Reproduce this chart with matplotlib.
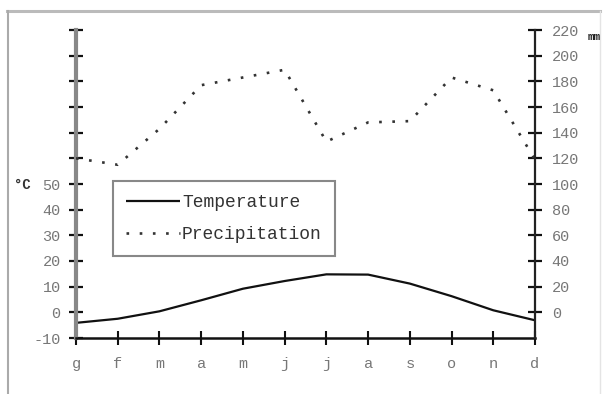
import matplotlib
matplotlib.use("Agg")
import matplotlib.pyplot as plt
from matplotlib.lines import Line2D

months = ["g", "f", "m", "a", "m", "j", "j", "a", "s", "o", "n", "d"]
temperature = [-4.1, -2.5, 0.4, 4.7, 9.2, 12.2, 14.8, 14.7, 11.2, 6.3, 0.8, -3.1]
precipitation = [120, 115, 143, 177, 183, 189, 133, 148, 149, 183, 173, 119]
temp_ticks = list(range(-10, 111, 10))
temp_labels = [str(t) if t <= 50 else "" for t in temp_ticks]
prec_ticks = list(range(0, 221, 20))

FONT = "Liberation Mono"
W, H = 606, 394
fig = plt.figure(figsize=(W / 100, H / 100), dpi=100)
fig.patch.set_facecolor("white")

ax = fig.add_axes([76 / W, 1 - 338 / H, (535 - 76) / W, (338 - 30) / H])
ax2 = ax.twinx()

x = list(range(len(months)))
l1, = ax.plot(x, temperature, color="#111111", lw=1.6, solid_capstyle="butt")
l2, = ax2.plot(x, precipitation, color="#333333", lw=1.9, linestyle=(0, (1, 4)))

ax.set_xlim(0, 11)
ax.set_ylim(-10, 110)
ax2.set_ylim(-20, 220)

for a in (ax, ax2):
    a.spines["top"].set_visible(False)
ax.spines["right"].set_visible(False)
ax2.spines["left"].set_visible(False)
ax2.spines["bottom"].set_visible(False)
ax.spines["left"].set_color("#888888")
ax.spines["left"].set_linewidth(3)
ax.spines["bottom"].set_color("#111111")
ax.spines["bottom"].set_linewidth(1.8)
ax2.spines["right"].set_color("#222222")
ax2.spines["right"].set_linewidth(1.6)

ax.set_xticks(x)
ax.set_xticklabels(months, fontfamily=FONT, fontsize=11, color="#777777")
ax.set_yticks(temp_ticks)
ax.set_yticklabels(temp_labels, fontfamily=FONT, fontsize=11, color="#777777")
ax2.set_yticks(prec_ticks)
ax2.set_yticklabels([str(p) for p in prec_ticks], fontfamily=FONT, fontsize=11, color="#777777")

ax.tick_params(axis="x", direction="inout", length=10, width=1.5, color="#111111", pad=9)
ax.tick_params(axis="y", direction="inout", length=10, width=1.6, color="#111111", pad=6)
ax2.tick_params(axis="y", direction="inout", length=10, width=1.6, color="#111111", pad=7)

fig.text(22 / W, 1 - 185 / H, "°C", fontfamily=FONT, fontsize=10, color="#333333",
         ha="center", va="center", fontweight="bold")
fig.text(588 / W, 1 - 37 / H, "mm", fontfamily=FONT, fontsize=8, color="#222222",
         ha="left", va="center", fontweight="bold")

leg = ax.legend([l1, l2], ["Temperature", "Precipitation"],
                loc="upper left", bbox_to_anchor=(113 / W, 1 - 181 / H),
                bbox_transform=fig.transFigure, borderaxespad=0,
                prop={"family": FONT, "size": 13}, fancybox=False,
                handlelength=3.0, handletextpad=0.1, labelspacing=0.85,
                borderpad=0.72, framealpha=1)
leg.get_frame().set_edgecolor("#888888")
leg.get_frame().set_linewidth(1.5)
for t in leg.get_texts():
    t.set_color("#333333")

# outer frame
fig.add_artist(Line2D([7 / W, 600 / W], [1 - 11 / H, 1 - 11 / H], transform=fig.transFigure,
                      color="#bbbbbb", lw=2.2))
fig.add_artist(Line2D([7.5 / W, 7.5 / W], [0, 1 - 11 / H], transform=fig.transFigure,
                      color="#aaaaaa", lw=1.5))
fig.add_artist(Line2D([600 / W, 600 / W], [0, 1 - 11 / H], transform=fig.transFigure,
                      color="#e4e4e4", lw=1.0))

fig.savefig("out.png", dpi=100)
